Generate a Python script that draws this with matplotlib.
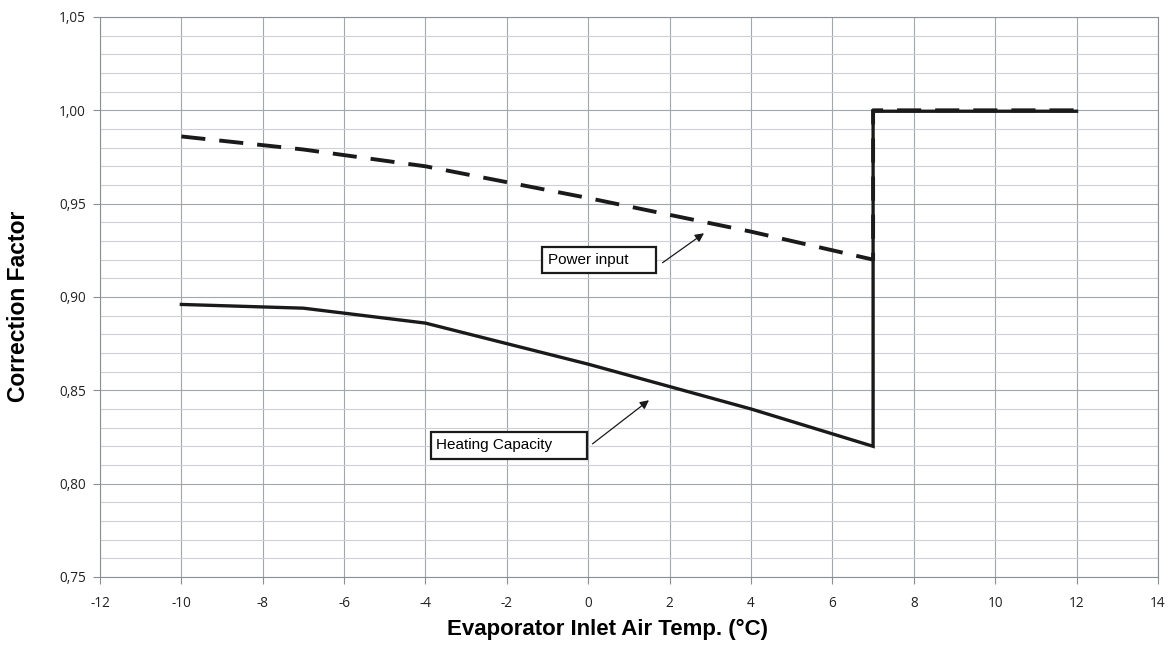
import matplotlib
matplotlib.use("Agg")
import matplotlib.pyplot as plt
from matplotlib.ticker import MultipleLocator, FuncFormatter
from matplotlib.patches import Rectangle

# Data
heat_x = [-10, -7, -4, 0, 4, 7, 7, 12]
heat_y = [0.896, 0.894, 0.886, 0.864, 0.840, 0.820, 0.9995, 0.9995]
power_x = [-10, -7, -4, 0, 4, 7, 7, 12]
power_y = [0.986, 0.979, 0.970, 0.953, 0.935, 0.920, 1.000, 1.000]

x_ticks = list(range(-12, 15, 2))
y_major = [0.75, 0.80, 0.85, 0.90, 0.95, 1.00, 1.05]

fig = plt.figure(figsize=(11.72, 6.48), dpi=100)
ax = fig.add_axes([0.0853, 0.1096, 0.9027, 0.8642])

ax.plot(heat_x, heat_y, color='#1a1a1a', lw=2.4, solid_joinstyle='miter', zorder=3)
ax.plot(power_x, power_y, color='#1a1a1a', lw=2.8, dashes=(6.2, 3.6), zorder=4)

ax.set_xlim(-12, 14)
ax.set_ylim(0.75, 1.05)
ax.set_xticks(x_ticks)
ax.set_yticks(y_major)
ax.yaxis.set_minor_locator(MultipleLocator(0.01))
ax.yaxis.set_major_formatter(FuncFormatter(lambda v, p: f"{v:.2f}".replace('.', ',')))
ax.xaxis.set_major_formatter(FuncFormatter(lambda v, p: f"{int(round(v))}"))

ax.grid(which='major', color='#a2a6ad', lw=0.8)
ax.grid(which='minor', axis='y', color='#cdd0d6', lw=0.8)
ax.set_axisbelow(True)
for s in ax.spines.values():
    s.set_color('#8c9096')
    s.set_linewidth(0.8)
ax.tick_params(which='major', length=5, color='#8c9096', labelsize=9.8, labelcolor='#222222')
ax.tick_params(axis='x', which='major', pad=8.5)
ax.tick_params(axis='y', which='major', pad=5)
ax.tick_params(which='minor', length=0)
for lab in ax.get_xticklabels() + ax.get_yticklabels():
    lab.set_family(['Open Sans', 'DejaVu Sans'])

ax.set_xlabel('Evaporator Inlet Air Temp. (°C)', fontsize=16, fontweight='bold',
              family=['Liberation Sans', 'DejaVu Sans'])
ax.xaxis.set_label_coords(0.480, -0.074)
ax.set_ylabel('Correction Factor', fontsize=16.5, fontweight='bold',
              family=['Liberation Sans', 'DejaVu Sans'])
ax.yaxis.set_label_coords(-0.066, 0.484)

box_font = ['Liberation Sans Narrow', 'Liberation Sans', 'DejaVu Sans']
# Power input box
ax.add_patch(Rectangle((-1.129, 0.9126), 2.798, 0.0144, fill=True, facecolor='white',
                       edgecolor='#1a1a1a', lw=1.6, zorder=5))
ax.text(-1.0, 0.9198, 'Power input', fontsize=11, family=box_font, va='center', ha='left', zorder=6)
ax.annotate('', xy=(2.9, 0.935), xytext=(1.77, 0.9175),
            arrowprops=dict(arrowstyle='-|>', color='#1a1a1a', lw=0.9, mutation_scale=13), zorder=6)
# Heating capacity box
ax.add_patch(Rectangle((-3.853, 0.8134), 3.828, 0.0144, fill=True, facecolor='white',
                       edgecolor='#1a1a1a', lw=1.6, zorder=5))
ax.text(-3.73, 0.8206, 'Heating Capacity', fontsize=11, family=box_font, va='center', ha='left', zorder=6)
ax.annotate('', xy=(1.546, 0.8456), xytext=(0.05, 0.8204),
            arrowprops=dict(arrowstyle='-|>', color='#1a1a1a', lw=0.9, mutation_scale=13), zorder=6)

fig.savefig('out.png', dpi=100)
